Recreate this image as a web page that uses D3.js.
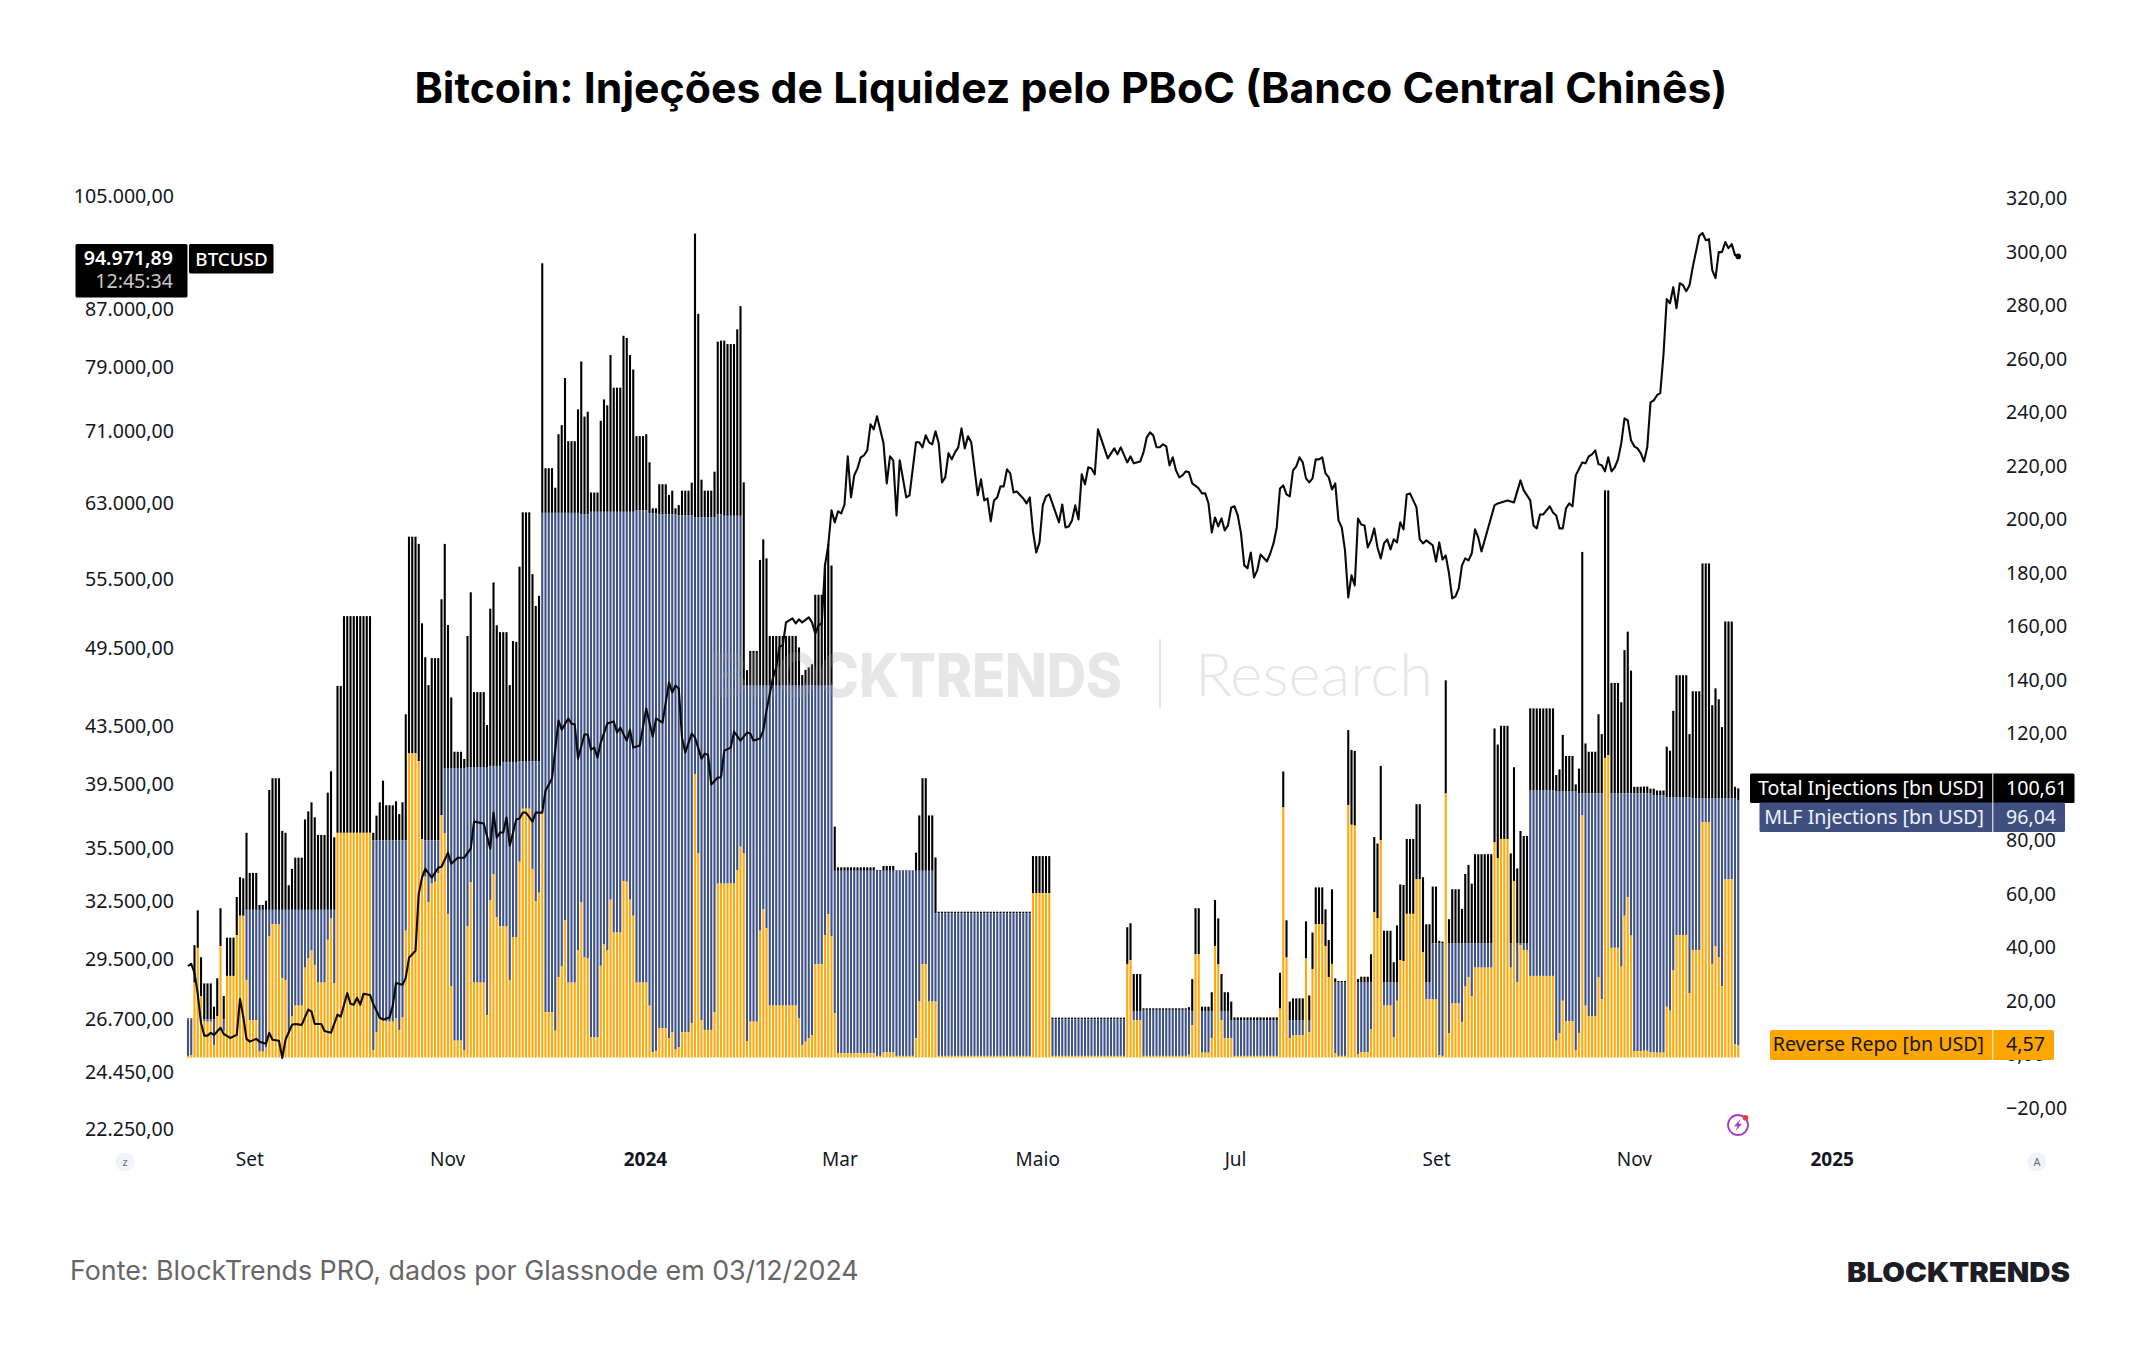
<!DOCTYPE html>
<html lang="pt-BR">
<head>
<meta charset="utf-8">
<title>Bitcoin: Injeções de Liquidez pelo PBoC</title>
<script src="https://cdn.jsdelivr.net/npm/d3@7/dist/d3.min.js"></script>
<style>
  html, body { margin: 0; padding: 0; background: #fff; }
  svg { display: block; }
</style>
</head>
<body>
<svg id="chart" width="2144" height="1350"></svg>
<script>
// Daily series start on this date; each array entry below is one consecutive day.
const firstDay = "2023-08-13";

const totalInjections = [
  14.6,14.6,42,55,37.5,27.7,27.7,27.7,19,29.6,
  55.8,23,44.8,44.8,44.8,60,67.4,67,84,69,
  69,69,57,57,58.6,100,104.4,104.4,104.4,84.7,
  84,64.4,70.5,74.7,74.7,74.7,89,92,95.4,89.8,
  83.2,83.2,83.2,99,107,82.3,138.9,138.9,165,165,
  165,165,165,165,165,165,165,84,90.4,95.4,
  103.5,94.3,94.3,94.3,95.8,91,95.4,128.3,194.7,194.7,
  194.7,192,162.3,149.6,139.2,149.3,149.3,149.3,171.3,192,
  161.7,134.6,114.3,114.3,114.3,111.6,157.6,173.9,136.6,136.6,
  136.6,136.6,124.3,167.8,177.6,161.6,159,159,159,139.2,
  155.7,155.4,183.5,203.8,203.8,203.8,180.7,168.8,172.6,296.9,
  220.3,220.3,220.3,213,233,236.4,254,230.4,230.4,230.4,
  242.3,260.2,239.6,241.4,211.2,211.2,211.2,238,246,243.8,
  262.6,250.4,250.4,250.4,269.8,269,262.6,257.2,232.3,232.3,
  232.3,233,222.5,205.3,205.3,214.3,214.3,214.3,210.3,211.9,
  205.3,206.5,211.9,211.9,211.9,214.9,308,278,216,211.9,
  211.9,211.9,219,267.6,268,268,266.7,266.7,266.7,272.2,
  280.9,215,144.8,152,152,152,186,193.7,186.6,157.6,
  157.6,157.6,157.6,157.6,157.6,157.6,157.6,157.6,153.3,143,
  144.9,145.8,147,173,173,173,184.7,192,183.9,86.3,
  71.1,71.1,71.1,71.1,71.1,71.1,71.1,71.1,71.1,71.1,
  71.1,71.1,70.1,70.1,71.6,71.6,71.6,71.6,70,70,
  70,70,70,70,76.6,90.5,104.4,104.4,90.5,90.5,
  74.8,54.5,54.5,54.5,54.5,54.5,54.5,54.5,54.5,54.5,
  54.5,54.5,54.5,54.5,54.5,54.5,54.5,54.5,54.5,54.5,
  54.5,54.5,54.5,54.5,54.5,54.5,54.5,54.5,54.5,54.5,
  75.3,75.3,75.3,75.3,75.3,75.3,14.9,14.9,14.9,14.9,
  14.9,14.9,14.9,14.9,14.9,14.9,14.9,14.9,14.9,14.9,
  14.9,14.9,14.9,14.9,14.9,14.9,14.9,14.9,14.9,48.7,
  50.2,31.2,31.2,31.2,18.4,18.4,18.4,18.4,18.4,18.4,
  18.4,18.4,18.4,18.4,18.4,18.4,18.4,18.4,18.8,29.3,
  55.8,55.8,19,19,19,24.4,58.9,52,31.2,24.4,
  24.4,20.9,15,15,15,15,15,15,15,15,
  15,15,15,15,15,15,31.7,106.9,51.3,20.9,
  22.1,22.1,22.1,22.1,50.9,23.2,46.7,63.6,63.6,63.6,
  55.4,43.9,62.9,29.6,28.6,28.6,28.6,122.4,115,114.6,
  29.3,30.2,30.2,30.2,38.6,82.4,80,109,47.4,47.4,
  47.4,35.6,49.4,64.7,64.5,81.7,81.7,81.7,94.7,94.7,
  67.4,49.8,49.8,63.9,63.9,43.6,43.3,141,51.7,62.9,
  62.9,62.9,55.5,68.6,72,65,76,76,76,76,
  76,76,123,117,124,124,124,76.3,108.5,70.7,
  84.7,82.8,82.8,130.5,130.5,130.5,130.5,130.5,130.5,130.5,
  130.5,105.6,107.7,120.6,112.7,112.7,112.7,102.1,108,189,
  117.4,114.3,114.3,114.3,128.3,120.9,212,212,140,140,
  140,132.8,152.3,159.2,144.6,101.2,101.2,101.2,101.3,101.3,
  100.5,100.5,99.8,99.8,99.8,116.2,114.7,129.6,142.9,142.9,
  142.9,142.9,120.9,136.9,136.9,136.9,184.7,184.7,184.7,131.7,
  138,133.9,123.5,163,163,163,101.2,100.61
];

const mlfInjections = [
  14.3,14.3,14.3,14.3,14.3,14.3,14.3,14.3,14.3,14.3,
  14.3,14.3,14.3,14.3,14.3,14.3,14.3,14.3,55.2,55.2,
  55.2,55.2,55.2,55.2,55.2,55.2,55.2,55.2,55.2,55.2,
  55.2,55.2,55.2,55.2,55.2,55.2,55.2,55.2,55.2,55.2,
  55.2,55.2,55.2,55.2,55.2,55.2,55,55,81.2,81.2,
  81.2,81.2,81.2,81.2,81.2,81.2,81.2,81.2,81.2,81.2,
  81.2,81.2,81.2,81.2,81.2,81.2,81.2,81.2,81.2,81.2,
  81.2,81.2,81.2,81.2,81.2,81.2,81.2,81.2,81.2,108,
  108,108,108,108,108,108,108.6,108.6,108.6,108.6,
  108.6,108.6,108.6,109,109,109,109,110.5,110.5,110.5,
  110.5,110.5,110.8,110.8,110.8,110.8,110.8,110.8,110.8,203.6,
  203.6,203.6,203.6,203.6,203.6,203.6,203.6,203.6,203.6,203.6,
  203.6,203,203,203,204,204,204,204,204,204,
  204,204,204,204,204,204,204,204,204.5,204.5,
  204.5,204.5,203.5,203.5,203.5,203,203,203,203,203,
  203,202.6,202.6,202.6,202.6,202.6,202,202,202,202,
  202,202,202,203,203,202.5,202.5,202.5,202.5,202.5,
  202.5,139,139,139,139,139,139,139,139,139,
  139,139,139,139,139,139,139,139,139,139,
  139,139,139,139,139,139,139,139,139,69.8,
  69.8,69.8,69.8,69.8,69.8,69.8,69.8,69.8,69.8,69.8,
  69.8,69.8,69.8,69.8,69.8,69.8,69.8,69.8,69.8,69.8,
  69.8,69.8,69.8,69.8,69.8,69.8,69.8,69.8,69.8,69.8,
  53.9,53.9,53.9,53.9,53.9,53.9,53.9,53.9,53.9,53.9,
  53.9,53.9,53.9,53.9,53.9,53.9,53.9,53.9,53.9,53.9,
  53.9,53.9,53.9,53.9,53.9,53.9,53.9,53.9,53.9,53.9,
  14.3,14.3,14.3,14.3,14.3,14.3,14.3,14.3,14.3,14.3,
  14.3,14.3,14.3,14.3,14.3,14.3,14.3,14.3,14.3,14.3,
  14.3,14.3,14.3,14.3,14.3,14.3,14.3,14.3,14.3,13.9,
  13.9,17.4,17.4,17.4,17.8,17.8,17.8,17.8,17.8,17.8,
  17.8,17.8,17.8,17.8,17.8,17.8,17.8,17.8,17.8,17.4,
  17.4,17.4,17.4,17.4,17.4,17.4,17.4,17.4,17.4,17.4,
  17.4,14,14,14,14,14,14,14,14,14,
  14,14,14,14,14,14,14,14,14,14,
  14,14,14,14,14,14,14,14,14,14,
  14,14,28,28,28,28,28,28,28,28,
  28,28,28,28,28,28,28,28,28,28,
  28,28,28,28,28,28,28,28,28,28,
  28,28.2,28.2,42.6,42.6,42.6,42.6,42.6,42.6,42.6,
  42.6,42.6,42.6,42.6,42.6,42.6,42.6,42.6,42.6,42.6,
  42.6,42.6,42.6,42.6,42.6,42.6,42.6,42.6,42.6,42.6,
  42.6,42.6,42.6,100,100,100,100,100,100,100,
  100,99.4,99.4,99.4,99.4,99.4,99.4,99.4,98.8,98.8,
  98.8,98.8,98.8,98.8,98.8,98.8,98.8,98.8,98.8,98.8,
  98.8,98.8,98.8,98.8,98.8,98.8,98.8,98.8,98.8,98.8,
  98.8,98.1,98.1,98.1,98.1,97.2,97.2,97.2,97.2,97.2,
  97.2,97.2,97.2,96.8,96.8,96.8,96.8,96.8,96.8,96.8,
  96.8,96.8,96.8,96.8,96.8,96.8,96.8,96.04
];

const reverseRepo = [
  0.6,0.9,28,41,23,13.4,13.4,13.4,4.7,15.5,
  41.7,10,30.5,30.5,30.5,45.8,53,53,29,14,
  14,14,2.2,2.2,3.7,45.4,49.8,49.8,49.8,29.6,
  29,9,15.5,19.4,19.4,19.4,33.6,37,40,34.6,
  28,28,28,44,52,27.7,84,84,84,84,
  84,84,84,84,84,84,84,2.8,9.5,14.4,
  14,13.4,13.4,13.4,14.6,10.3,15,47.4,113.7,113.7,
  113.7,110.8,81.6,67.6,58,65,65.7,68.8,90.6,83.8,
  53.6,26.7,6.3,6.3,6.3,2.8,49,65.5,28,28,
  28,28,15.9,58.9,68.6,52.4,49,49,49,29,
  45,45,73.2,93,93,93,70.5,58.5,61.6,93,
  17,17,17,10,30,34,51.4,28,28,28,
  40,58,37.4,37,7.5,7.5,7.5,34.3,42.3,40,
  59,46.7,46.7,46.7,66,65.7,59,53,28,28,
  28,28,19.4,2,2.5,11,11,11,7.2,9.4,
  3,3.8,9.4,9.4,9.4,12.9,106,76.3,14,10.3,
  10.3,10.3,17,65,65,65,65,65,65,70,
  78.8,76.3,6,13.4,13.4,13.4,47.4,55.4,48.3,19.4,
  19.4,19.4,19.4,19.4,19.4,19.4,19.4,19.4,14.6,4.7,
  5.9,7.2,8.4,34.8,34.8,34.8,45.8,53.6,45.4,16.5,
  1.6,1.6,1.6,1.6,1.6,1.6,1.6,1.6,1.6,1.6,
  1.6,1.6,0.6,0.6,1.9,1.9,1.9,1.9,0.6,0.6,
  0.6,0.6,0.6,0.6,7.2,20.9,34.8,34.8,20.9,20.9,
  20.9,0.6,0.6,0.6,0.6,0.6,0.6,0.6,0.6,0.6,
  0.6,0.6,0.6,0.6,0.6,0.6,0.6,0.6,0.6,0.6,
  0.6,0.6,0.6,0.6,0.6,0.6,0.6,0.6,0.6,0.6,
  61.4,61.4,61.4,61.4,61.4,61.4,0.6,0.6,0.6,0.6,
  0.6,0.6,0.6,0.6,0.6,0.6,0.6,0.6,0.6,0.6,
  0.6,0.6,0.6,0.6,0.6,0.6,0.6,0.6,0.6,34.8,
  36.4,14,14,14,0.6,0.6,0.6,0.6,0.6,0.6,
  0.6,0.6,0.6,0.6,0.6,0.6,0.6,0.6,1,12.1,
  38.6,38.6,1.8,1.8,1.8,7.2,41.7,34.8,14,7.2,
  7.2,7.2,0.6,0.6,0.6,0.6,0.6,0.6,0.6,0.6,
  0.6,0.6,0.6,0.6,0.6,0.6,18.3,93.5,37.4,7.2,
  8.4,8.4,8.4,8.4,37,9.4,33,49.8,49.8,49.8,
  41.7,30,35,1.6,0.6,0.6,0.6,94.4,87,86.7,
  1.3,2,2,2,10.5,54.4,52,81.3,19.4,19.4,
  19.4,7.5,21.2,36.4,36,53.7,53.7,53.7,66.6,66.6,
  39.3,21.7,21.7,21.7,21.7,0.9,0.6,98.7,9,20.2,
  20.2,20.2,13.3,26.5,30,23,33.6,33.6,33.6,33.6,
  33.6,33.6,80.4,74.5,81.7,81.7,81.7,33.6,66,28.2,
  42,40.2,40.2,30.5,30.5,30.5,30.5,30.5,30.5,30.5,
  30.5,6.3,9,21.2,13.6,13.6,13.6,2.8,9.2,90.5,
  19.4,15.5,15.5,15.5,29.9,21.8,112,113,41,41,
  41,34,53,60,45.6,2.4,2.4,2.4,2.5,2.5,
  1.9,2,1.8,1.8,1.8,19,17.5,32.5,45.8,45.8,
  45.8,45.8,24,40.2,40.2,40.2,88,88,88,35,
  41.7,37.4,26.7,66.6,66.6,66.6,4.9,4.57
];

// BTCUSD closes as [day number since firstDay, price].
const btcCloses = [
  [0,29190],[1,29290],[2,28860],[3,27870],[4,26560],[5,26000],[6,26000],[7,26120],[8,26030],[10,26340],
  [11,26070],[13,25900],[15,26030],[16,27640],[17,26830],[18,25860],[19,25740],[21,25860],[22,25740],[24,25650],
  [25,26120],[26,25820],[28,25780],[29,25050],[30,25820],[32,26470],[33,26510],[35,26470],[37,27150],[38,27060],
  [39,26510],[41,26510],[42,26200],[44,26120],[46,26920],[47,26830],[49,27910],[50,27410],[51,27370],[52,27690],
  [53,27370],[54,27870],[56,27820],[57,27410],[59,26790],[60,26700],[62,26790],[63,27320],[64,28380],[66,28290],
  [67,28620],[68,29590],[70,29940],[71,32920],[72,33810],[73,34310],[75,33810],[77,34370],[78,34430],[80,35240],
  [81,34600],[83,34950],[85,34950],[87,35480],[88,37110],[91,36990],[93,35480],[94,37670],[95,36130],[96,36440],
  [97,36440],[98,37360],[99,35650],[101,37240],[102,37300],[103,37670],[104,37670],[106,37110],[107,37670],[109,37670],
  [110,39070],[112,39860],[114,43900],[115,43240],[117,44050],[118,43680],[119,43610],[120,41210],[122,42890],[123,42890],
  [124,41830],[125,41970],[126,41280],[127,42320],[129,43680],[131,43830],[132,43030],[133,43390],[135,42460],[136,43240],
  [137,41970],[139,42110],[141,44790],[143,42740],[144,44050],[146,43750],[148,46770],[149,46000],[150,46530],[151,46300],
  [152,42670],[153,41620],[155,42960],[156,42670],[158,41210],[159,41550],[160,41480],[161,39470],[163,39930],[164,39930],
  [165,41760],[167,41970],[168,43100],[170,42460],[172,43030],[173,42960],[174,42460],[176,42600],[177,43170],[178,44640],
  [180,47150],[181,47950],[182,49650],[183,49730],[184,51680],[186,52020],[187,51590],[188,51940],[189,51680],[191,52110],
  [192,51680],[193,50730],[194,51420],[195,51590],[196,56820],[197,58730],[198,62260],[199,61030],[200,62150],[201,61940],
  [202,62870],[203,68110],[204,63620],[205,65990],[206,66760],[207,68000],[208,68230],[209,68790],[210,71840],[211,71240],
  [212,72800],[214,69600],[215,65110],[216,68110],[217,67660],[218,61740],[219,67660],[221,63620],[222,63840],[224,69720],
  [225,69720],[226,69140],[227,70530],[228,69720],[229,69490],[230,71000],[231,69600],[232,65220],[233,65770],[234,68470],
  [235,67770],[236,68560],[237,69140],[238,71360],[239,69020],[240,70410],[241,69720],[243,63840],[244,65550],[245,63300],
  [246,63510],[247,61130],[248,63300],[249,63620],[250,64790],[251,64790],[252,66650],[253,66210],[254,64150],[255,64250],
  [257,63510],[258,62980],[259,63620],[260,60120],[261,58050],[262,59030],[263,62780],[264,63720],[265,63930],[268,61030],
  [269,62870],[270,60520],[271,60620],[272,61230],[273,62780],[274,61330],[275,66100],[276,65010],[277,66880],[278,66760],
  [279,66100],[280,71240],[283,67880],[285,69020],[286,68340],[287,69140],[289,67430],[290,68110],[291,67320],[293,67540],
  [294,68560],[295,70300],[296,70880],[297,70530],[298,69140],[299,69140],[300,69490],[301,69260],[302,67100],[303,68000],
  [304,66540],[305,65770],[306,65990],[307,66430],[308,66320],[309,65110],[311,64570],[312,64040],[313,64040],[314,62980],
  [315,60020],[316,61530],[317,60620],[318,61430],[319,60220],[320,60720],[321,62570],[322,62680],[323,61740],[324,59920],
  [325,56820],[326,56540],[327,58050],[328,55700],[329,56350],[330,57860],[332,57190],[333,57950],[334,58930],[335,60520],
  [336,64570],[337,64900],[338,63930],[339,63720],[340,66540],[341,66990],[342,68000],[343,67430],[344,65660],[345,65220],
  [346,65660],[347,67770],[348,67770],[349,68000],[350,66210],[351,65770],[352,64470],[353,65110],[354,61230],[355,60520],
  [356,58250],[357,53870],[358,55880],[359,54960],[360,61430],[361,60820],[362,60720],[363,58540],[364,59230],[365,60420],
  [366,58540],[367,57480],[368,58930],[369,59330],[370,58350],[371,59330],[372,59030],[373,61030],[374,60320],[375,63930],
  [376,64040],[378,62570],[379,59330],[380,58930],[381,59230],[383,58740],[384,57190],[385,59030],[386,57380],[387,57760],
  [388,56070],[389,53780],[390,53960],[391,54680],[392,56820],[393,57480],[394,57290],[395,57950],[396,60320],[397,59520],
  [398,58150],[402,62780],[403,62980],[406,63300],[408,63090],[410,65440],[411,64360],[413,63300],[414,60720],[415,60420],
  [416,61840],[417,61840],[419,62680],[420,62050],[421,61740],[422,60420],[423,60420],[424,62470],[425,62980],[426,62680],
  [427,65990],[429,67430],[430,67320],[431,68110],[432,68340],[433,68790],[434,67210],[435,67100],[436,66430],[437,68000],
  [438,66430],[439,66880],[440,67770],[441,69600],[442,72560],[443,72320],[444,69950],[445,69260],[446,69020],[447,68470],
  [448,67540],[449,69140],[450,74500],[451,74750],[452,75400],[453,75650],[454,80700],[455,88450],[456,87850],[457,90230],
  [458,87130],[459,90830],[460,90520],[461,89630],[462,90520],[463,93290],[465,98240],[466,98740],[467,97570],[468,97730],
  [469,92820],[470,91600],[471,95640],[472,95640],[473,97250],[474,96280],[475,96920],[476,95170],[477,94971.89]
];

const btcTicks = [105000,87000,79000,71000,63000,55500,49500,43500,39500,35500,32500,29500,26700,24450,22250];
const injectionTicks = [320,300,280,260,240,220,200,180,160,140,120,100,80,60,40,20,0,-20];
const monthTickDates = ["2023-09-01","2023-11-01","2024-01-01","2024-03-01","2024-05-01","2024-07-01","2024-09-01","2024-11-01","2025-01-01"];
const monthTickLabels = ["Set","Nov","2024","Mar","Maio","Jul","Set","Nov","2025"];

const titleText = "Bitcoin: Injeções de Liquidez pelo PBoC (Banco Central Chinês)";
const sourceText = "Fonte: BlockTrends PRO, dados por Glassnode em 03/12/2024";

const ptBR = d3.formatLocale({ decimal: ",", thousands: ".", grouping: [3], currency: ["", ""] });
const fmt2 = ptBR.format(",.2f");

const svg = d3.select("#chart");
const axisFont = "'Noto Sans', sans-serif";
const axisSize = 19.6;
const COLORS = { total: "#000000", mlf: "#3f5285", repo: "#ffa90a", pillRepo: "#ffa500", pillMlf: "#3f5080" };

const dayDate = n => d3.utcDay.offset(new Date(firstDay + "T00:00:00Z"), n);
const lastTickDay = new Date("2025-01-01T00:00:00Z");

const x = d3.scaleUtc().domain([dayDate(0), lastTickDay]).range([188, 1835.75]);
const xLabels = d3.scaleUtc().domain([dayDate(0), lastTickDay]).range([187.7, 1831.7]);
const yInj = d3.scaleLinear().domain([-20, 320]).range([1111, 201.5]);
const yBtc = d3.scaleLog().domain([22250, 105000]).range([1129.3, 196]);
const barWidth = 2.1;

// Columns overlap on one baseline: each layer paints only the part the layer in
// front of it leaves visible, so no dark fringe shows around the front colours.
function columnLayer(values, hiddenBelow, color) {
  svg.append("g").attr("fill", color)
    .selectAll("rect").data(values).join("rect")
    .attr("x", (d, i) => x(dayDate(i)) - barWidth / 2)
    .attr("width", barWidth)
    .attr("y", d => yInj(d))
    .attr("height", (d, i) => Math.max(0, yInj(hiddenBelow(i)) - yInj(d)));
}
columnLayer(totalInjections, i => Math.max(mlfInjections[i], reverseRepo[i]), COLORS.total);
columnLayer(mlfInjections, i => reverseRepo[i], COLORS.mlf);
columnLayer(reverseRepo, () => 0, COLORS.repo);

// Watermark: a faint veil drawn over the columns.
const wm = svg.append("g").attr("fill", "#a0a0a0").attr("fill-opacity", 0.25);
wm.append("text").attr("x", 711).attr("y", 697).attr("font-family", "Inter, sans-serif")
  .attr("font-weight", 800).attr("font-size", 60).attr("textLength", 411).attr("lengthAdjust", "spacingAndGlyphs").text("BLOCKTRENDS");
wm.append("rect").attr("x", 1159).attr("y", 639).attr("width", 2).attr("height", 70);
wm.append("text").attr("x", 1195).attr("y", 696).attr("font-family", "Lato, sans-serif")
  .attr("font-weight", 300).attr("font-size", 60).attr("textLength", 238).attr("lengthAdjust", "spacingAndGlyphs").text("Research");

// Price line on the logarithmic axis.
const priceLine = d3.line().x(d => x(dayDate(d[0]))).y(d => yBtc(d[1]));
svg.append("path").datum(btcCloses)
  .attr("d", priceLine).attr("fill", "none").attr("stroke", "#0a0a0a")
  .attr("stroke-width", 2.1).attr("stroke-linejoin", "round");
const lastClose = btcCloses[btcCloses.length - 1];
svg.append("circle").attr("cx", x(dayDate(lastClose[0]))).attr("cy", yBtc(lastClose[1])).attr("r", 2.8).attr("fill", "#000");

// Axes: text only, no domain lines or tick marks.
function styleAxis(g, size) {
  g.select(".domain").remove();
  g.selectAll(".tick line").remove();
  g.selectAll("text").attr("font-family", axisFont).attr("font-size", size).attr("fill", "#131722");
}
svg.append("g").attr("transform", "translate(174,0)")
  .call(d3.axisLeft(yBtc).tickValues(btcTicks).tickSize(0).tickPadding(0).tickFormat(fmt2))
  .call(styleAxis, axisSize);
svg.append("g").attr("transform", "translate(2006,-3)")
  .call(d3.axisRight(yInj).tickValues(injectionTicks).tickSize(0).tickPadding(0).tickFormat(fmt2))
  .call(styleAxis, axisSize);

const monthDates = monthTickDates.map(s => new Date(s + "T00:00:00Z"));
svg.append("g").attr("transform", "translate(0,1152.5)")
  .call(d3.axisBottom(xLabels).tickValues(monthDates).tickSize(0).tickPadding(0)
    .tickFormat((d, i) => monthTickLabels[i]))
  .call(styleAxis, 19)
  .selectAll("text")
  .attr("font-weight", (d, i) => /^\d+$/.test(monthTickLabels[i]) ? 700 : 400);

// Value tags on both price scales.
function tag(x0, y0, w, h, fill) {
  svg.append("rect").attr("x", x0).attr("y", y0).attr("width", w).attr("height", h).attr("rx", 1.5).attr("fill", fill);
}
function tagText(px, py, text, fill, anchor, weight, size) {
  svg.append("text").attr("x", px).attr("y", py).attr("text-anchor", anchor || "start")
    .attr("font-family", axisFont).attr("font-size", size || axisSize).attr("font-weight", weight || 400)
    .attr("fill", fill).text(text);
}

tag(75.5, 244, 112, 53.5, "#000");
tagText(173, 264.5, fmt2(lastClose[1]), "#fff", "end", 600);
tagText(173, 288, "12:45:34", "#c8c8c8", "end");
tag(189, 244, 84.5, 29.5, "#000");
tagText(231.5, 265.5, "BTCUSD", "#fff", "middle", 500, 18.8);

const dividerX = 1992.3;
const serieTags = [
  { x0: 1750, w: 324.5, y0: 773.5, h: 29.5, fill: "#000", ink: "#fff", name: "Total Injections [bn USD]", value: totalInjections[totalInjections.length - 1] },
  { x0: 1759.5, w: 305.5, y0: 802.5, h: 29.5, fill: COLORS.pillMlf, ink: "#f0f3fa", name: "MLF Injections [bn USD]", value: mlfInjections[mlfInjections.length - 1] },
  { x0: 1770, w: 284, y0: 1030, h: 30, fill: COLORS.pillRepo, ink: "#131722", name: "Reverse Repo [bn USD]", value: reverseRepo[reverseRepo.length - 1] }
];
serieTags.forEach(t => {
  tag(t.x0, t.y0, t.w, t.h, t.fill);
  svg.append("rect").attr("x", dividerX).attr("y", t.y0).attr("width", 1).attr("height", t.h).attr("fill", "#fff");
  tagText(1984, t.y0 + 21, t.name, t.ink, "end");
  tagText(2006, t.y0 + 21, fmt2(t.value), t.ink, "start");
});

// Corner badges of the chart frame.
function badge(cx, cy, letter) {
  svg.append("circle").attr("cx", cx).attr("cy", cy).attr("r", 9.5).attr("fill", "#f0f3fa");
  svg.append("text").attr("x", cx).attr("y", cy + 4).attr("text-anchor", "middle")
    .attr("font-family", axisFont).attr("font-size", 11).attr("fill", "#6a6d78").text(letter);
}
badge(125, 1162, "z");
badge(2037, 1162, "A");

// Event marker near the last column.
const mark = svg.append("g").attr("transform", "translate(1738,1125)");
mark.append("circle").attr("r", 10).attr("fill", "none").attr("stroke", "#a63fc2").attr("stroke-width", 1.8);
mark.append("path").attr("d", "M2.5,-6 L-4,1.2 L-0.5,1.2 L-2.5,6 L4,-1.2 L0.5,-1.2 Z").attr("fill", "#a63fc2");
mark.append("circle").attr("cx", 7.5).attr("cy", -7.2).attr("r", 2.8).attr("fill", "#f23645");

// Heading, source line and wordmark.
svg.append("text").attr("x", 1071).attr("y", 103).attr("text-anchor", "middle")
  .attr("font-family", "Inter, sans-serif").attr("font-weight", 700).attr("font-size", 42.8).attr("fill", "#000").text(titleText);
svg.append("text").attr("x", 70).attr("y", 1280).attr("font-family", "Inter, sans-serif")
  .attr("font-size", 26.8).attr("fill", "#666").text(sourceText);
svg.append("text").attr("x", 1847).attr("y", 1281.5).attr("font-family", "Inter, sans-serif")
  .attr("font-weight", 900).attr("font-size", 27.5).attr("fill", "#1d1d25").attr("textLength", 223)
  .attr("lengthAdjust", "spacingAndGlyphs").text("BLOCKTRENDS");
</script>
</body>
</html>
